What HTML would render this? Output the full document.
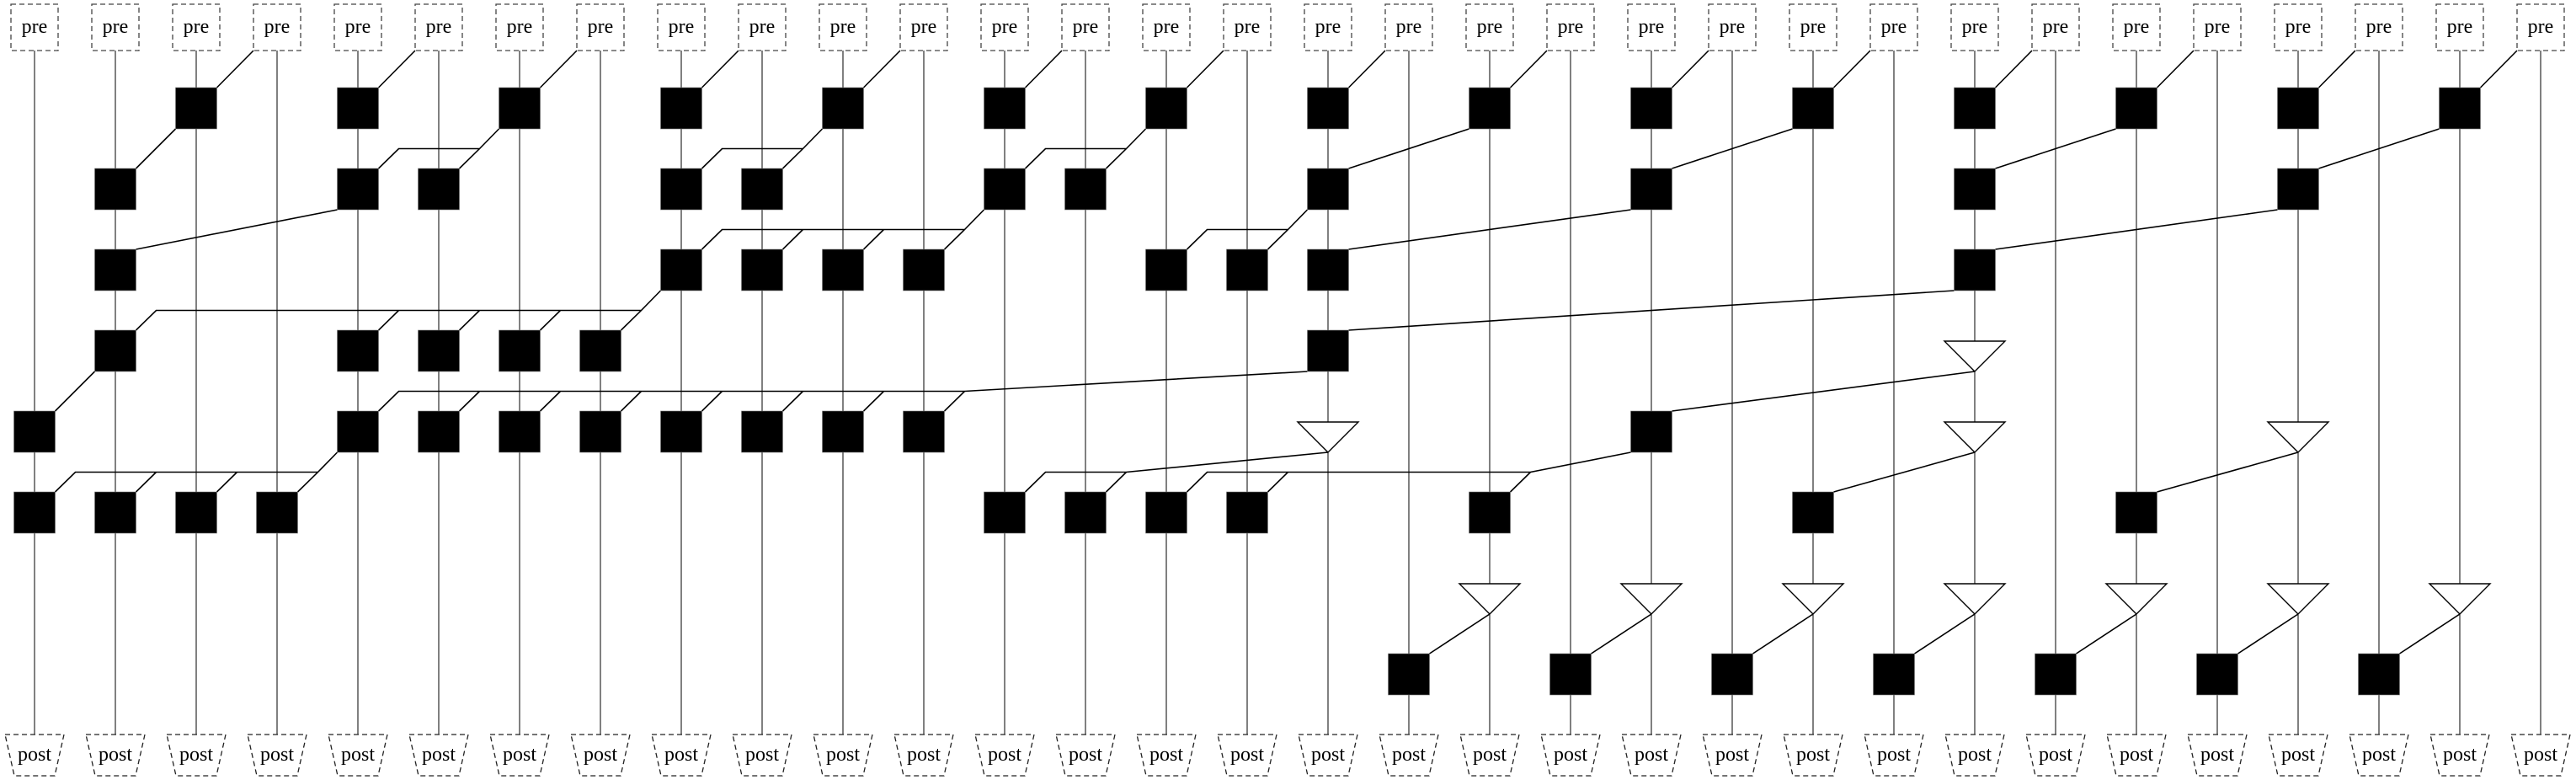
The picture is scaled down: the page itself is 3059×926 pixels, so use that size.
<!DOCTYPE html>
<html><head><meta charset="utf-8"><style>
html,body{margin:0;padding:0;background:#fff;}
svg{display:block;}
.pre rect{fill:#fff;stroke:#444;stroke-width:1.3;stroke-dasharray:6,4;}
.post polygon{fill:#fff;stroke:#222;stroke-width:1.3;stroke-dasharray:6,4;}
text{font-family:"Liberation Serif",serif;font-size:24px;text-anchor:middle;fill:#000;}
.v line{stroke:#000;stroke-width:1;}
.e{fill:none;stroke:#000;stroke-width:1.6;}
.sq rect{fill:#000;stroke:#777;stroke-width:0.6;}
.tri polygon{fill:#fff;stroke:#000;stroke-width:1.4;}
</style></head><body>
<svg width="3059" height="926" viewBox="0 0 3059 926" xmlns="http://www.w3.org/2000/svg">
<g class="v">
<line x1="41" y1="60" x2="41" y2="872"/><line x1="137" y1="60" x2="137" y2="872"/><line x1="233" y1="60" x2="233" y2="872"/><line x1="329" y1="60" x2="329" y2="872"/><line x1="425" y1="60" x2="425" y2="872"/><line x1="521" y1="60" x2="521" y2="872"/><line x1="617" y1="60" x2="617" y2="872"/><line x1="713" y1="60" x2="713" y2="872"/><line x1="809" y1="60" x2="809" y2="872"/><line x1="905" y1="60" x2="905" y2="872"/><line x1="1001" y1="60" x2="1001" y2="872"/><line x1="1097" y1="60" x2="1097" y2="872"/><line x1="1193" y1="60" x2="1193" y2="872"/><line x1="1289" y1="60" x2="1289" y2="872"/><line x1="1385" y1="60" x2="1385" y2="872"/><line x1="1481" y1="60" x2="1481" y2="872"/><line x1="1577" y1="60" x2="1577" y2="872"/><line x1="1673" y1="60" x2="1673" y2="872"/><line x1="1769" y1="60" x2="1769" y2="872"/><line x1="1865" y1="60" x2="1865" y2="872"/><line x1="1961" y1="60" x2="1961" y2="872"/><line x1="2057" y1="60" x2="2057" y2="872"/><line x1="2153" y1="60" x2="2153" y2="872"/><line x1="2249" y1="60" x2="2249" y2="872"/><line x1="2345" y1="60" x2="2345" y2="872"/><line x1="2441" y1="60" x2="2441" y2="872"/><line x1="2537" y1="60" x2="2537" y2="872"/><line x1="2633" y1="60" x2="2633" y2="872"/><line x1="2729" y1="60" x2="2729" y2="872"/><line x1="2825" y1="60" x2="2825" y2="872"/><line x1="2921" y1="60" x2="2921" y2="872"/><line x1="3017" y1="60" x2="3017" y2="872"/>
</g>
<g class="e">
<!-- pre -> row1 -->
<path d="M301 60L257.5 104"/><path d="M493 60L449.5 104"/><path d="M685 60L641.5 104"/><path d="M877 60L833.5 104"/><path d="M1069 60L1025.5 104"/><path d="M1261 60L1217.5 104"/><path d="M1453 60L1409.5 104"/><path d="M1645 60L1601.5 104"/><path d="M1837 60L1793.5 104"/><path d="M2029 60L1985.5 104"/><path d="M2221 60L2177.5 104"/><path d="M2413 60L2369.5 104"/><path d="M2605 60L2561.5 104"/><path d="M2797 60L2753.5 104"/><path d="M2989 60L2945.5 104"/>
<!-- row1 -> row2 -->
<path d="M208.5 153L161.5 200"/>
<path d="M592.5 153L569.5 176.5L545.5 200M569.5 176.5L473.5 176.5L449.5 200"/>
<path d="M976.5 153L953.5 176.5L929.5 200M953.5 176.5L857.5 176.5L833.5 200"/>
<path d="M1360.5 153L1337.5 176.5L1313.5 200M1337.5 176.5L1241.5 176.5L1217.5 200"/>
<path d="M1744.5 153L1601.5 200"/><path d="M2128.5 153L1985.5 200"/><path d="M2512.5 153L2369.5 200"/><path d="M2896.5 153L2753.5 200"/>
<!-- row2 -> row3 -->
<path d="M400.5 249L161.5 296"/>
<path d="M1168.5 249L1145.5 272.5L1121.5 296M1145.5 272.5L857.5 272.5L833.5 296M953.5 272.5L929.5 296M1049.5 272.5L1025.5 296"/>
<path d="M1552.5 249L1529.5 272.5L1505.5 296M1529.5 272.5L1433.5 272.5L1409.5 296"/>
<path d="M1936.5 249L1601.5 296"/><path d="M2704.5 249L2369.5 296"/>
<!-- row3 -> row4 -->
<path d="M784.5 345L761.5 368.5L737.5 392M761.5 368.5L185.5 368.5L161.5 392M473.5 368.5L449.5 392M569.5 368.5L545.5 392M665.5 368.5L641.5 392"/>
<path d="M2320.5 345L1601.5 392"/>
<!-- row4 -> row5 -->
<path d="M112.5 441L65.5 488"/>
<path d="M1552.5 441L1145.5 464.5L1121.5 488M1145.5 464.5L473.5 464.5L449.5 488M569.5 464.5L545.5 488M665.5 464.5L641.5 488M761.5 464.5L737.5 488M857.5 464.5L833.5 488M953.5 464.5L929.5 488M1049.5 464.5L1025.5 488"/>
<path d="M2345 441L1985.5 488"/>
<!-- row5 -> row6 -->
<path d="M400.5 537L377.5 560.5L353.5 584M377.5 560.5L89.5 560.5L65.5 584M185.5 560.5L161.5 584M281.5 560.5L257.5 584"/>
<path d="M1577 537L1337.5 560.5L1313.5 584M1337.5 560.5L1241.5 560.5L1217.5 584"/>
<path d="M1936.5 537L1817.5 560.5L1793.5 584M1817.5 560.5L1433.5 560.5L1409.5 584M1529.5 560.5L1505.5 584"/>
<path d="M2345 537L2177.5 584"/><path d="M2729 537L2561.5 584"/>
<!-- row7 -> row8 -->
<path d="M1769 729L1697.5 776"/><path d="M1961 729L1889.5 776"/><path d="M2153 729L2081.5 776"/><path d="M2345 729L2273.5 776"/><path d="M2537 729L2465.5 776"/><path d="M2729 729L2657.5 776"/><path d="M2921 729L2849.5 776"/>
</g>
<g class="sq">
<!-- row1 y104 -->
<rect x="208.5" y="104" width="49" height="49"/><rect x="400.5" y="104" width="49" height="49"/><rect x="592.5" y="104" width="49" height="49"/><rect x="784.5" y="104" width="49" height="49"/><rect x="976.5" y="104" width="49" height="49"/><rect x="1168.5" y="104" width="49" height="49"/><rect x="1360.5" y="104" width="49" height="49"/><rect x="1552.5" y="104" width="49" height="49"/><rect x="1744.5" y="104" width="49" height="49"/><rect x="1936.5" y="104" width="49" height="49"/><rect x="2128.5" y="104" width="49" height="49"/><rect x="2320.5" y="104" width="49" height="49"/><rect x="2512.5" y="104" width="49" height="49"/><rect x="2704.5" y="104" width="49" height="49"/><rect x="2896.5" y="104" width="49" height="49"/>
<!-- row2 y200: 1,4,5,8,9,12,13,16,20,24,28 -->
<rect x="112.5" y="200" width="49" height="49"/><rect x="400.5" y="200" width="49" height="49"/><rect x="496.5" y="200" width="49" height="49"/><rect x="784.5" y="200" width="49" height="49"/><rect x="880.5" y="200" width="49" height="49"/><rect x="1168.5" y="200" width="49" height="49"/><rect x="1264.5" y="200" width="49" height="49"/><rect x="1552.5" y="200" width="49" height="49"/><rect x="1936.5" y="200" width="49" height="49"/><rect x="2320.5" y="200" width="49" height="49"/><rect x="2704.5" y="200" width="49" height="49"/>
<!-- row3 y296: 1,8,9,10,11,14,15,16,24 -->
<rect x="112.5" y="296" width="49" height="49"/><rect x="784.5" y="296" width="49" height="49"/><rect x="880.5" y="296" width="49" height="49"/><rect x="976.5" y="296" width="49" height="49"/><rect x="1072.5" y="296" width="49" height="49"/><rect x="1360.5" y="296" width="49" height="49"/><rect x="1456.5" y="296" width="49" height="49"/><rect x="1552.5" y="296" width="49" height="49"/><rect x="2320.5" y="296" width="49" height="49"/>
<!-- row4 y392: 1,4,5,6,7,16 -->
<rect x="112.5" y="392" width="49" height="49"/><rect x="400.5" y="392" width="49" height="49"/><rect x="496.5" y="392" width="49" height="49"/><rect x="592.5" y="392" width="49" height="49"/><rect x="688.5" y="392" width="49" height="49"/><rect x="1552.5" y="392" width="49" height="49"/>
<!-- row5 y488: 0,4..11,20 -->
<rect x="16.5" y="488" width="49" height="49"/><rect x="400.5" y="488" width="49" height="49"/><rect x="496.5" y="488" width="49" height="49"/><rect x="592.5" y="488" width="49" height="49"/><rect x="688.5" y="488" width="49" height="49"/><rect x="784.5" y="488" width="49" height="49"/><rect x="880.5" y="488" width="49" height="49"/><rect x="976.5" y="488" width="49" height="49"/><rect x="1072.5" y="488" width="49" height="49"/><rect x="1936.5" y="488" width="49" height="49"/>
<!-- row6 y584: 0,1,2,3,12,13,14,15,18,22,26 -->
<rect x="16.5" y="584" width="49" height="49"/><rect x="112.5" y="584" width="49" height="49"/><rect x="208.5" y="584" width="49" height="49"/><rect x="304.5" y="584" width="49" height="49"/><rect x="1168.5" y="584" width="49" height="49"/><rect x="1264.5" y="584" width="49" height="49"/><rect x="1360.5" y="584" width="49" height="49"/><rect x="1456.5" y="584" width="49" height="49"/><rect x="1744.5" y="584" width="49" height="49"/><rect x="2128.5" y="584" width="49" height="49"/><rect x="2512.5" y="584" width="49" height="49"/>
<!-- row8 y776: 17,19,...,29 -->
<rect x="1648.5" y="776" width="49" height="49"/><rect x="1840.5" y="776" width="49" height="49"/><rect x="2032.5" y="776" width="49" height="49"/><rect x="2224.5" y="776" width="49" height="49"/><rect x="2416.5" y="776" width="49" height="49"/><rect x="2608.5" y="776" width="49" height="49"/><rect x="2800.5" y="776" width="49" height="49"/>
</g>
<g class="tri">
<polygon points="2309,405 2381,405 2345,441"/>
<polygon points="1541,501 1613,501 1577,537"/><polygon points="2309,501 2381,501 2345,537"/><polygon points="2693,501 2765,501 2729,537"/>
<polygon points="1733,693 1805,693 1769,729"/><polygon points="1925,693 1997,693 1961,729"/><polygon points="2117,693 2189,693 2153,729"/><polygon points="2309,693 2381,693 2345,729"/><polygon points="2501,693 2573,693 2537,729"/><polygon points="2693,693 2765,693 2729,729"/><polygon points="2885,693 2957,693 2921,729"/>
</g>
<g class="pre">
<g transform="translate(41,0)"><rect x="-28" y="5" width="56" height="55"/><text x="0" y="39">pre</text></g>
<g transform="translate(137,0)"><rect x="-28" y="5" width="56" height="55"/><text x="0" y="39">pre</text></g>
<g transform="translate(233,0)"><rect x="-28" y="5" width="56" height="55"/><text x="0" y="39">pre</text></g>
<g transform="translate(329,0)"><rect x="-28" y="5" width="56" height="55"/><text x="0" y="39">pre</text></g>
<g transform="translate(425,0)"><rect x="-28" y="5" width="56" height="55"/><text x="0" y="39">pre</text></g>
<g transform="translate(521,0)"><rect x="-28" y="5" width="56" height="55"/><text x="0" y="39">pre</text></g>
<g transform="translate(617,0)"><rect x="-28" y="5" width="56" height="55"/><text x="0" y="39">pre</text></g>
<g transform="translate(713,0)"><rect x="-28" y="5" width="56" height="55"/><text x="0" y="39">pre</text></g>
<g transform="translate(809,0)"><rect x="-28" y="5" width="56" height="55"/><text x="0" y="39">pre</text></g>
<g transform="translate(905,0)"><rect x="-28" y="5" width="56" height="55"/><text x="0" y="39">pre</text></g>
<g transform="translate(1001,0)"><rect x="-28" y="5" width="56" height="55"/><text x="0" y="39">pre</text></g>
<g transform="translate(1097,0)"><rect x="-28" y="5" width="56" height="55"/><text x="0" y="39">pre</text></g>
<g transform="translate(1193,0)"><rect x="-28" y="5" width="56" height="55"/><text x="0" y="39">pre</text></g>
<g transform="translate(1289,0)"><rect x="-28" y="5" width="56" height="55"/><text x="0" y="39">pre</text></g>
<g transform="translate(1385,0)"><rect x="-28" y="5" width="56" height="55"/><text x="0" y="39">pre</text></g>
<g transform="translate(1481,0)"><rect x="-28" y="5" width="56" height="55"/><text x="0" y="39">pre</text></g>
<g transform="translate(1577,0)"><rect x="-28" y="5" width="56" height="55"/><text x="0" y="39">pre</text></g>
<g transform="translate(1673,0)"><rect x="-28" y="5" width="56" height="55"/><text x="0" y="39">pre</text></g>
<g transform="translate(1769,0)"><rect x="-28" y="5" width="56" height="55"/><text x="0" y="39">pre</text></g>
<g transform="translate(1865,0)"><rect x="-28" y="5" width="56" height="55"/><text x="0" y="39">pre</text></g>
<g transform="translate(1961,0)"><rect x="-28" y="5" width="56" height="55"/><text x="0" y="39">pre</text></g>
<g transform="translate(2057,0)"><rect x="-28" y="5" width="56" height="55"/><text x="0" y="39">pre</text></g>
<g transform="translate(2153,0)"><rect x="-28" y="5" width="56" height="55"/><text x="0" y="39">pre</text></g>
<g transform="translate(2249,0)"><rect x="-28" y="5" width="56" height="55"/><text x="0" y="39">pre</text></g>
<g transform="translate(2345,0)"><rect x="-28" y="5" width="56" height="55"/><text x="0" y="39">pre</text></g>
<g transform="translate(2441,0)"><rect x="-28" y="5" width="56" height="55"/><text x="0" y="39">pre</text></g>
<g transform="translate(2537,0)"><rect x="-28" y="5" width="56" height="55"/><text x="0" y="39">pre</text></g>
<g transform="translate(2633,0)"><rect x="-28" y="5" width="56" height="55"/><text x="0" y="39">pre</text></g>
<g transform="translate(2729,0)"><rect x="-28" y="5" width="56" height="55"/><text x="0" y="39">pre</text></g>
<g transform="translate(2825,0)"><rect x="-28" y="5" width="56" height="55"/><text x="0" y="39">pre</text></g>
<g transform="translate(2921,0)"><rect x="-28" y="5" width="56" height="55"/><text x="0" y="39">pre</text></g>
<g transform="translate(3017,0)"><rect x="-28" y="5" width="56" height="55"/><text x="0" y="39">pre</text></g>
</g>
<g class="post">
<g transform="translate(41,0)"><polygon points="-35,872 35,872 24,921 -24,921"/><text x="0" y="903">post</text></g>
<g transform="translate(137,0)"><polygon points="-35,872 35,872 24,921 -24,921"/><text x="0" y="903">post</text></g>
<g transform="translate(233,0)"><polygon points="-35,872 35,872 24,921 -24,921"/><text x="0" y="903">post</text></g>
<g transform="translate(329,0)"><polygon points="-35,872 35,872 24,921 -24,921"/><text x="0" y="903">post</text></g>
<g transform="translate(425,0)"><polygon points="-35,872 35,872 24,921 -24,921"/><text x="0" y="903">post</text></g>
<g transform="translate(521,0)"><polygon points="-35,872 35,872 24,921 -24,921"/><text x="0" y="903">post</text></g>
<g transform="translate(617,0)"><polygon points="-35,872 35,872 24,921 -24,921"/><text x="0" y="903">post</text></g>
<g transform="translate(713,0)"><polygon points="-35,872 35,872 24,921 -24,921"/><text x="0" y="903">post</text></g>
<g transform="translate(809,0)"><polygon points="-35,872 35,872 24,921 -24,921"/><text x="0" y="903">post</text></g>
<g transform="translate(905,0)"><polygon points="-35,872 35,872 24,921 -24,921"/><text x="0" y="903">post</text></g>
<g transform="translate(1001,0)"><polygon points="-35,872 35,872 24,921 -24,921"/><text x="0" y="903">post</text></g>
<g transform="translate(1097,0)"><polygon points="-35,872 35,872 24,921 -24,921"/><text x="0" y="903">post</text></g>
<g transform="translate(1193,0)"><polygon points="-35,872 35,872 24,921 -24,921"/><text x="0" y="903">post</text></g>
<g transform="translate(1289,0)"><polygon points="-35,872 35,872 24,921 -24,921"/><text x="0" y="903">post</text></g>
<g transform="translate(1385,0)"><polygon points="-35,872 35,872 24,921 -24,921"/><text x="0" y="903">post</text></g>
<g transform="translate(1481,0)"><polygon points="-35,872 35,872 24,921 -24,921"/><text x="0" y="903">post</text></g>
<g transform="translate(1577,0)"><polygon points="-35,872 35,872 24,921 -24,921"/><text x="0" y="903">post</text></g>
<g transform="translate(1673,0)"><polygon points="-35,872 35,872 24,921 -24,921"/><text x="0" y="903">post</text></g>
<g transform="translate(1769,0)"><polygon points="-35,872 35,872 24,921 -24,921"/><text x="0" y="903">post</text></g>
<g transform="translate(1865,0)"><polygon points="-35,872 35,872 24,921 -24,921"/><text x="0" y="903">post</text></g>
<g transform="translate(1961,0)"><polygon points="-35,872 35,872 24,921 -24,921"/><text x="0" y="903">post</text></g>
<g transform="translate(2057,0)"><polygon points="-35,872 35,872 24,921 -24,921"/><text x="0" y="903">post</text></g>
<g transform="translate(2153,0)"><polygon points="-35,872 35,872 24,921 -24,921"/><text x="0" y="903">post</text></g>
<g transform="translate(2249,0)"><polygon points="-35,872 35,872 24,921 -24,921"/><text x="0" y="903">post</text></g>
<g transform="translate(2345,0)"><polygon points="-35,872 35,872 24,921 -24,921"/><text x="0" y="903">post</text></g>
<g transform="translate(2441,0)"><polygon points="-35,872 35,872 24,921 -24,921"/><text x="0" y="903">post</text></g>
<g transform="translate(2537,0)"><polygon points="-35,872 35,872 24,921 -24,921"/><text x="0" y="903">post</text></g>
<g transform="translate(2633,0)"><polygon points="-35,872 35,872 24,921 -24,921"/><text x="0" y="903">post</text></g>
<g transform="translate(2729,0)"><polygon points="-35,872 35,872 24,921 -24,921"/><text x="0" y="903">post</text></g>
<g transform="translate(2825,0)"><polygon points="-35,872 35,872 24,921 -24,921"/><text x="0" y="903">post</text></g>
<g transform="translate(2921,0)"><polygon points="-35,872 35,872 24,921 -24,921"/><text x="0" y="903">post</text></g>
<g transform="translate(3017,0)"><polygon points="-35,872 35,872 24,921 -24,921"/><text x="0" y="903">post</text></g>
</g>
</svg>
</body></html>
